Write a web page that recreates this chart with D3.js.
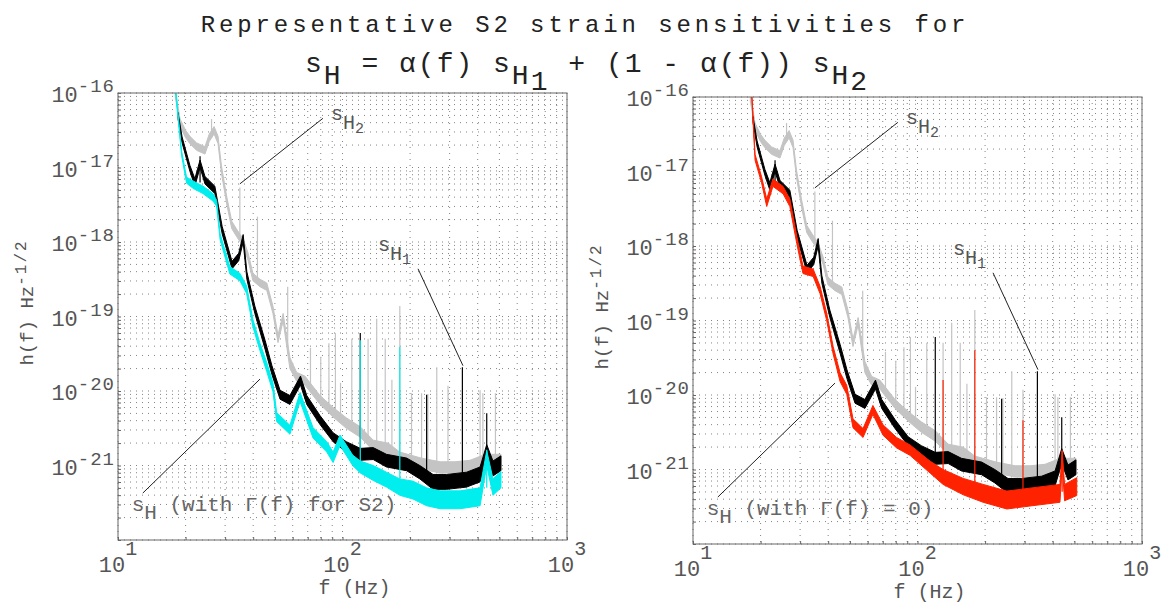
<!DOCTYPE html>
<html>
<head>
<meta charset="utf-8">
<script src="https://cdn.jsdelivr.net/npm/d3@7"></script>
<style>
  body { margin: 0; background: #fff; }
  text { font-family: "Courier New", "Liberation Mono", monospace; }
</style>
</head>
<body>
<svg id="canvas" width="1165" height="605"></svg>
<script>
// each row: [frequency (Hz), log10 h low, log10 h high]
var sH2 = [
  [18.0, -16.05, -15.95], [18.9, -16.45, -16.35], [20.0, -16.6, -16.5], [20.9, -16.68, -16.58],
  [22.4, -16.77, -16.67], [24.4, -16.82, -16.72], [25.5, -16.65, -16.55], [26.8, -16.55, -16.45],
  [27.9, -16.68, -16.58], [28.9, -17.08, -16.98], [30.5, -17.49, -17.39], [32.1, -17.82, -17.72],
  [33.8, -17.93, -17.83], [36.1, -18.06, -17.96], [38.0, -18.25, -18.15], [39.9, -18.52, -18.42],
  [42.9, -18.6, -18.5], [46.0, -18.65, -18.55], [49.0, -18.96, -18.86], [51.6, -19.35, -19.25],
  [54.4, -19.06, -18.96], [58.3, -19.7, -19.55], [62.5, -19.87, -19.75], [68.0, -19.92, -19.8],
  [79.4, -20.18, -20.06], [90.8, -20.35, -20.22], [104, -20.5, -20.36], [120, -20.62, -20.48],
  [137, -20.8, -20.66], [160, -20.85, -20.7], [180, -20.95, -20.82], [224, -21.05, -20.9],
  [272, -21.1, -20.95], [317, -21.1, -20.95], [370, -21.08, -20.93], [432, -21.0, -20.85],
  [508, -21.0, -20.85]
];

var sH1 = [
  [18.5, -16.34, -16.26], [19.3, -16.67, -16.59], [20.9, -17.05, -16.97], [22.0, -17.25, -17.15],
  [23.2, -17.0, -16.9], [24.4, -17.22, -17.12], [27.0, -17.35, -17.25], [29.1, -17.89, -17.79],
  [32.2, -18.36, -18.26], [34.5, -18.25, -18.15], [36.1, -18.0, -17.9], [37.5, -18.5, -18.4],
  [40.7, -18.96, -18.86], [45.2, -19.44, -19.32], [48.5, -19.78, -19.66], [52.7, -20.11, -19.99],
  [58.3, -20.18, -20.06], [65.0, -19.92, -19.8], [69.3, -20.18, -20.06], [79.4, -20.45, -20.33],
  [90.8, -20.68, -20.56], [104, -20.82, -20.68], [120, -20.93, -20.77], [137, -20.92, -20.76],
  [157, -21.02, -20.85], [193, -21.07, -20.9], [221, -21.18, -21.0], [253, -21.32, -21.12],
  [291, -21.32, -21.12], [357, -21.29, -21.09], [410, -21.22, -21.02], [439, -20.92, -20.72],
  [468, -21.14, -20.94], [508, -21.07, -20.87]
];

// combined sH with Gamma(f) for S2 (left) and with Gamma(f) = 0 (right)
var sHgamma = [
  [17.5, -15.82, -15.76], [18.1, -16.03, -15.97], [19.2, -16.84, -16.78], [20.2, -17.21, -17.13],
  [21.6, -17.28, -17.18], [23.9, -17.35, -17.25], [26.5, -17.45, -17.35], [27.5, -17.52, -17.44],
  [28.5, -17.97, -17.89], [31.5, -18.43, -18.33], [34.9, -18.52, -18.42], [37.4, -18.69, -18.59],
  [39.9, -19.14, -19.04], [42.9, -19.46, -19.36], [46.0, -19.74, -19.62], [49.0, -20.01, -19.89],
  [50.9, -20.41, -20.29], [58.3, -20.58, -20.46], [64.7, -20.14, -20.02], [73.9, -20.63, -20.49],
  [85.1, -20.82, -20.68], [90.8, -20.96, -20.82], [97.5, -20.73, -20.59], [111, -21.0, -20.86],
  [120, -21.1, -20.94], [137, -21.2, -21.0], [157, -21.29, -21.09], [180, -21.4, -21.18],
  [206, -21.45, -21.21], [237, -21.54, -21.3], [272, -21.58, -21.34], [334, -21.58, -21.34],
  [410, -21.54, -21.3], [439, -21.0, -20.8], [468, -21.4, -21.18], [508, -21.3, -21.08]
];

var sHzero = [
  [17.8, -15.82, -15.76], [18.3, -16.03, -15.97], [18.9, -16.85, -16.77], [20.2, -17.15, -17.07],
  [21.3, -17.47, -17.37], [22.7, -17.2, -17.1], [25.2, -17.3, -17.2], [27.0, -17.47, -17.37],
  [29.0, -17.97, -17.87], [30.9, -18.37, -18.27], [34.3, -18.41, -18.31], [36.8, -18.64, -18.54],
  [39.4, -19.0, -18.9], [42.1, -19.45, -19.35], [45.2, -19.82, -19.7], [48.4, -19.99, -19.87],
  [51.6, -20.44, -20.32], [57.2, -20.57, -20.45], [63.3, -20.26, -20.14], [70.2, -20.54, -20.4],
  [80.7, -20.71, -20.57], [92.6, -20.81, -20.67], [114, -21.05, -20.89], [130, -21.2, -21.0],
  [160, -21.34, -21.12], [196, -21.44, -21.2], [250, -21.53, -21.29], [317, -21.49, -21.25],
  [431, -21.44, -21.2], [441, -20.95, -20.75], [452, -21.42, -21.2], [512, -21.35, -21.11]
];

// line spikes: [frequency, log10 bottom, log10 top]
var spikesH2 = [
  [26.1, -16.6, -16.35], [34.9, -17.9, -17.27], [41.8, -18.5, -17.66], [57, -19.5, -18.6],
  [72, -20.0, -19.42], [80, -20.1, -19.54], [87, -20.2, -19.36], [93, -20.3, -19.22],
  [98, -20.4, -19.89], [110, -20.5, -19.3], [130, -20.7, -19.3], [142, -20.75, -19.03],
  [155, -20.8, -19.3], [166, -20.9, -19.85], [180, -20.95, -18.86], [203, -21.0, -20.03],
  [225, -21.0, -20.03], [240, -21.0, -20.04], [263, -21.05, -19.68], [295, -21.05, -19.93],
  [410, -21.0, -19.99], [422, -21.0, -20.03], [480, -21.0, -20.03]
];
var spikesH1 = [[23.2, -17.2, -16.85], [120, -20.85, -19.22], [237, -21.1, -20.05], [342, -21.15, -19.68], [439, -21.0, -20.3]];
var spikesGamma = [[120, -21.0, -19.32], [180, -21.2, -19.41], [439, -21.3, -20.79]];
var spikesZero = [[130, -21.1, -19.8], [180, -21.2, -19.4], [295, -21.35, -20.34], [441, -21.3, -20.74]];

var xTicks = [1, 2, 3];
var yTicks = [-16, -17, -18, -19, -20, -21];

// pointer lines [f, log10 h] pairs and label anchors
var ptrH2 = [[34.9, -17.22], [81.8, -16.34]];
var ptrH1 = [[217, -18.36], [344, -19.66]];
var ptrH = [[12.9, -21.37], [42.9, -19.84]];
var lblH2 = [88.9, -16.36];
var lblH1 = [144, -18.12];
var lblH = [11.5, -21.61];

var W = 449, H = 447;
var svg = d3.select("#canvas");

var x = d3.scaleLog().domain([10, 1000]).range([0, W]);
var y = d3.scaleLog().domain([1e-22, 1e-16]).range([H, 0]);
function p10(v) { return Math.pow(10, v); }

function subText(g, px, py, size, parts, color) {
  var t = g.append("text").attr("x", px).attr("y", py)
    .style("font-size", size + "px").style("fill", color);
  parts.forEach(function(p) {
    t.append("tspan").attr("dy", p[1]).style("font-size", (p[2] || size) + "px").text(p[0]);
  });
  return t;
}

function drawPanel(x0, y0, sH, sHSpikes, color, hLabel) {
  var g = svg.append("g").attr("transform", "translate(" + x0 + "," + y0 + ")");

  // dotted grid on every log tick
  g.append("g").selectAll("line").data(x.ticks()).enter().append("line")
    .attr("x1", function(d) { return x(d); }).attr("x2", function(d) { return x(d); })
    .attr("y1", 0).attr("y2", H)
    .attr("stroke", "#333").attr("stroke-dasharray", "1,5").attr("opacity", 0.6);
  g.append("g").selectAll("line").data(y.ticks()).enter().append("line")
    .attr("y1", function(d) { return y(d); }).attr("y2", function(d) { return y(d); })
    .attr("x1", 0).attr("x2", W)
    .attr("stroke", "#333").attr("stroke-dasharray", "1,5").attr("opacity", 0.6);

  var clip = "clip" + x0;
  g.append("clipPath").attr("id", clip).append("rect").attr("width", W).attr("height", H);
  var plot = g.append("g").attr("clip-path", "url(#" + clip + ")");

  var band = d3.area()
    .x(function(d) { return x(d[0]); })
    .y0(function(d) { return y(p10(d[1])); })
    .y1(function(d) { return y(p10(d[2])); });

  function series(data, spikes, c) {
    plot.append("path").datum(data).attr("d", band)
      .attr("fill", c).attr("stroke", c).attr("stroke-width", 1);
    plot.append("g").selectAll("line").data(spikes).enter().append("line")
      .attr("x1", function(d) { return x(d[0]); }).attr("x2", function(d) { return x(d[0]); })
      .attr("y1", function(d) { return y(p10(d[1])); }).attr("y2", function(d) { return y(p10(d[2])); })
      .attr("stroke", c).attr("stroke-width", 1.2);
  }
  series(sH2, spikesH2, "#c4c4c4");
  series(sH1, spikesH1, "#000");
  series(sH, sHSpikes, color);

  // frame and inward ticks
  g.append("rect").attr("width", W).attr("height", H)
    .attr("fill", "none").attr("stroke", "#666").attr("stroke-width", 1);
  g.append("g").attr("transform", "translate(0," + H + ")")
    .call(d3.axisBottom(x).tickSize(-3).tickFormat("").tickSizeOuter(0))
    .call(function(a) { a.select(".domain").remove(); a.selectAll("line").attr("stroke", "#666"); });
  g.append("g")
    .call(d3.axisLeft(y).tickSize(-3).tickFormat("").tickSizeOuter(0))
    .call(function(a) { a.select(".domain").remove(); a.selectAll("line").attr("stroke", "#666"); });

  // tick labels
  xTicks.forEach(function(e) {
    var t = g.append("text").attr("x", x(p10(e))).attr("y", H + 32)
      .attr("text-anchor", "middle").style("font-size", "22px").style("fill", "#555");
    t.append("tspan").text("10");
    t.append("tspan").attr("dy", -17).style("font-size", "20px").text(e);
  });
  yTicks.forEach(function(e) {
    var t = g.append("text").attr("x", -3).attr("y", y(p10(e)) + 9)
      .attr("text-anchor", "end").style("font-size", "22px").style("fill", "#555");
    t.append("tspan").text("10");
    t.append("tspan").attr("dy", -10).style("font-size", "19px").style("letter-spacing", "1px").text("-" + (-e));
  });

  // axis labels
  var yl = g.append("text").attr("transform", "translate(-85," + (H / 2 - 14) + ") rotate(-90)")
    .attr("text-anchor", "middle").style("font-size", "19px").style("fill", "#555");
  yl.append("tspan").text("h(f) Hz");
  yl.append("tspan").attr("dy", -7).style("font-size", "16px").style("letter-spacing", "2px").text("-1/2");
  g.append("text").attr("x", W / 2 + 12).attr("y", H + 54).attr("text-anchor", "middle")
    .style("font-size", "20px").style("fill", "#555").text("f (Hz)");

  // pointer annotations
  var ptr = d3.line().x(function(d) { return x(d[0]); }).y(function(d) { return y(p10(d[1])); });
  [ptrH2, ptrH1, ptrH].forEach(function(p) {
    g.append("path").attr("d", ptr(p)).attr("stroke", "#222").attr("stroke-width", 1).attr("fill", "none");
  });
  subText(g, x(lblH2[0]), y(p10(lblH2[1])), 20, [["s", 0], ["H", 9], ["2", 4, 15]], "#555");
  subText(g, x(lblH1[0]), y(p10(lblH1[1])), 20, [["s", 0], ["H", 9], ["1", 4, 15]], "#555");
  subText(g, x(lblH[0]), y(p10(lblH[1])), 21, [["s", 0], ["H", 8], [hLabel, -8]], "#666");
}

drawPanel(118, 93, sHgamma, spikesGamma, "#00eeee", " (with \u0393(f) for S2)");
drawPanel(693, 97, sHzero, spikesZero, "#ff2200", " (with \u0393(f) = 0)");

// title
svg.append("text").attr("x", 585).attr("y", 32).attr("text-anchor", "middle")
  .style("font-size", "24px").style("letter-spacing", "3.9px").style("fill", "#222")
  .text("Representative S2 strain sensitivities for");
subText(svg, 305, 72, 28, [
  ["s", 0], ["H", 12], [" = \u03b1(f) s", -12], ["H", 12], ["1", 6],
  [" + (1 - \u03b1(f)) s", -18], ["H", 12], ["2", 6]
], "#222").style("letter-spacing", "2px");
</script>
</body>
</html>
